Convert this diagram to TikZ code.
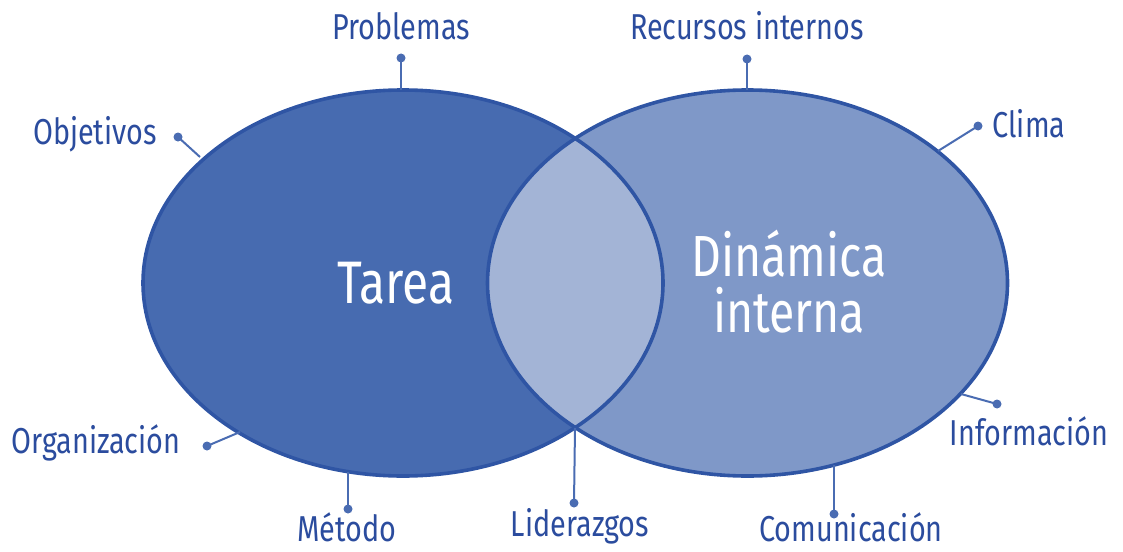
\documentclass[tikz,border=0pt]{standalone}
\usepackage{fontspec}
\setmainfont{Fira Sans}[FakeStretch=0.8]
\usetikzlibrary{shapes.geometric}
\definecolor{cL}{HTML}{476BB0}
\definecolor{cR}{HTML}{7F98C8}
\definecolor{cO}{HTML}{A3B4D6}
\definecolor{cB}{HTML}{2F55A4}
\definecolor{cT}{HTML}{2B4C9E}
\definecolor{cD}{HTML}{4A6CB2}
\begin{document}
\begin{tikzpicture}[x=1pt,y=-1pt,
  ell/.style={ellipse, minimum width=520pt, minimum height=386pt, inner sep=0pt, outer sep=0pt},
  border/.style={draw=cB, line width=3.6pt},
  lbl/.style={text=cT, font=\fontsize{36}{40}\selectfont, inner sep=0pt},
  big/.style={text=white, font=\fontsize{60}{56}\selectfont, inner sep=0pt, align=center},
  conn/.style={draw=cD, line width=2pt},
  dot/.style={circle, fill=cD, minimum size=9pt, inner sep=0pt}]
\useasboundingbox (0,0) rectangle (1123,551);
% ellipses
\node[ell, fill=cL] (L) at (403,283) {};
\node[ell, fill=cR] (R) at (747.5,283) {};
\begin{scope}
  \clip (403,283) ellipse [x radius=260, y radius=193];
  \fill[cO] (747.5,283) ellipse [x radius=260, y radius=193];
\end{scope}
\draw[border] (403,283) ellipse [x radius=260, y radius=193];
\draw[border] (747.5,283) ellipse [x radius=260, y radius=193];
\node[big] (tarea) at (396,283) {Tarea};
\node[big, font=\fontsize{58}{56}\selectfont] (din) at (789,282) {Dinámica\\interna};
% attach points
\coordinate (aProb) at (401,90);
\coordinate (aObj) at (200,157);
\coordinate (aOrg) at (240,432);
\coordinate (aMet) at (348,472);
\coordinate (aLid) at (575,428);
\coordinate (aRec) at (747,90);
\coordinate (aCli) at (938,151);
\coordinate (aInf) at (961,394);
\coordinate (aCom) at (834,465);
% dots
\node[dot] (dProb) at (401,58) {};
\node[dot] (dObj) at (178,137) {};
\node[dot] (dOrg) at (207,446) {};
\node[dot] (dMet) at (348,509) {};
\node[dot] (dLid) at (574,503) {};
\node[dot] (dRec) at (747,59) {};
\node[dot] (dCli) at (978,126) {};
\node[dot] (dInf) at (997,404) {};
\node[dot] (dCom) at (834,514) {};
% connectors
\draw[conn] (aProb) -- (dProb.center);
\draw[conn] (aObj) -- (dObj.center);
\draw[conn] (aOrg) -- (dOrg.center);
\draw[conn] (aMet) -- (dMet.center);
\draw[conn] (aLid) -- (dLid.center);
\draw[conn] (aRec) -- (dRec.center);
\draw[conn] (aCli) -- (dCli.center);
\draw[conn] (aInf) -- (dInf.center);
\draw[conn] (aCom) -- (dCom.center);
% labels
\node[lbl] (tProb) at (401,26) {Problemas};
\node[lbl] (tObj) at (95,134) {Objetivos};
\node[lbl] (tOrg) at (96,443) {Organización};
\node[lbl] (tMet) at (347,527) {Método};
\node[lbl] (tLid) at (580,526) {Liderazgos};
\node[lbl] (tRec) at (747,26) {Recursos internos};
\node[lbl] (tCli) at (1029,124) {Clima};
\node[lbl] (tInf) at (1029,431) {Información};
\node[lbl] (tCom) at (851,527) {Comunicación};
\end{tikzpicture}
\end{document}
